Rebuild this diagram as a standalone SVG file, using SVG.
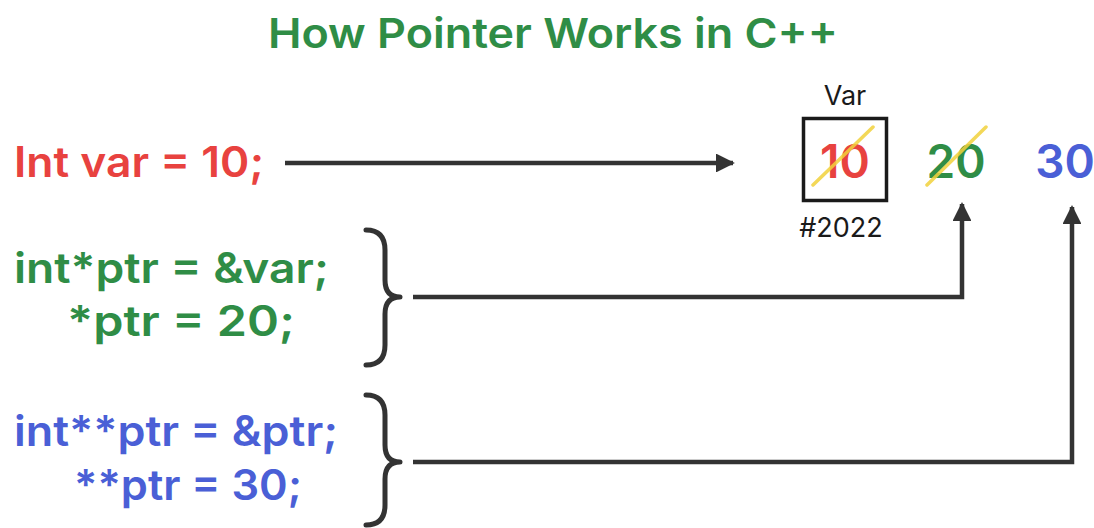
<svg xmlns="http://www.w3.org/2000/svg" width="1094" height="528" viewBox="0 0 1094 528">
<style>
.t{font-family:Inter,"Open Sans","Liberation Sans",sans-serif;font-weight:600}
.r{fill:#e8423f}.g{fill:#2f8d46}.b{fill:#4a5fd6}
.k{font-family:Inter,"Open Sans","Liberation Sans",sans-serif;font-weight:400;fill:#1a1a1a;font-size:27px}
.ln{fill:none;stroke:#333;stroke-width:4.5}
.br{fill:none;stroke:#333;stroke-width:5;stroke-linecap:round;stroke-linejoin:round}
.strike{stroke:#f2d23c;stroke-width:3.5;stroke-linecap:round;opacity:0.85}
</style>
<defs>
<marker id="ah" viewBox="0 0 10 10" refX="9" refY="5" markerWidth="4.2" markerHeight="4.2" markerUnits="strokeWidth" orient="auto">
<path d="M0,0 L10,5 L0,10 Z" fill="#333"/>
</marker>
</defs>
<rect width="1094" height="528" fill="#fff"/>
<g id="title"><text class="t g" x="268" y="48" font-size="41" font-weight="700" textLength="570" lengthAdjust="spacingAndGlyphs">How Pointer Works in C++</text></g>
<g id="line1"><text class="t r" x="14" y="177" font-size="42" textLength="250" lengthAdjust="spacingAndGlyphs">Int var = 10;</text></g>
<g id="line2">
<text class="t g" x="14" y="283" font-size="42" textLength="315" lengthAdjust="spacingAndGlyphs">int*ptr = &amp;var;</text>
<text class="t g" x="67" y="336" font-size="42" textLength="228" lengthAdjust="spacingAndGlyphs">*ptr = 20;</text>
<path class="br" d="M366,230 Q385,230 385,250 L385,280 Q385,297 400,297 Q385,297 385,314 L385,345 Q385,365 366,365"/>
</g>
<g id="line3">
<text class="t b" x="14" y="446" font-size="42" textLength="324" lengthAdjust="spacingAndGlyphs">int**ptr = &amp;ptr;</text>
<text class="t b" x="74" y="500" font-size="42" textLength="228" lengthAdjust="spacingAndGlyphs">**ptr = 30;</text>
<path class="br" d="M366,395 Q385,395 385,415 L385,445 Q385,462 400,462 Q385,462 385,479 L385,505 Q385,525 366,525"/>
</g>
<g id="var">
<text class="k" x="845" y="105" text-anchor="middle">Var</text>
<rect x="803.5" y="118.5" width="83" height="82" fill="none" stroke="#1a1a1a" stroke-width="3.5"/>
<text class="t r" x="845" y="178" font-size="46" text-anchor="middle">10</text>
<line class="strike" x1="813" y1="185" x2="873" y2="127"/>
<text class="k" x="841" y="237" text-anchor="middle">#2022</text>
</g>
<g id="v20">
<text class="t g" x="956" y="178" font-size="46" text-anchor="middle">20</text>
<line class="strike" x1="927" y1="185" x2="986" y2="127"/>
</g>
<g id="v30"><text class="t b" x="1065" y="178" font-size="46" text-anchor="middle">30</text></g>
<g id="connectors">
<line class="ln" x1="285" y1="163" x2="733" y2="163" marker-end="url(#ah)"/>
<polyline class="ln" points="413,297 962,297 962,204" marker-end="url(#ah)"/>
<polyline class="ln" points="413,462 1072,462 1072,207" marker-end="url(#ah)"/>
</g>
</svg>
